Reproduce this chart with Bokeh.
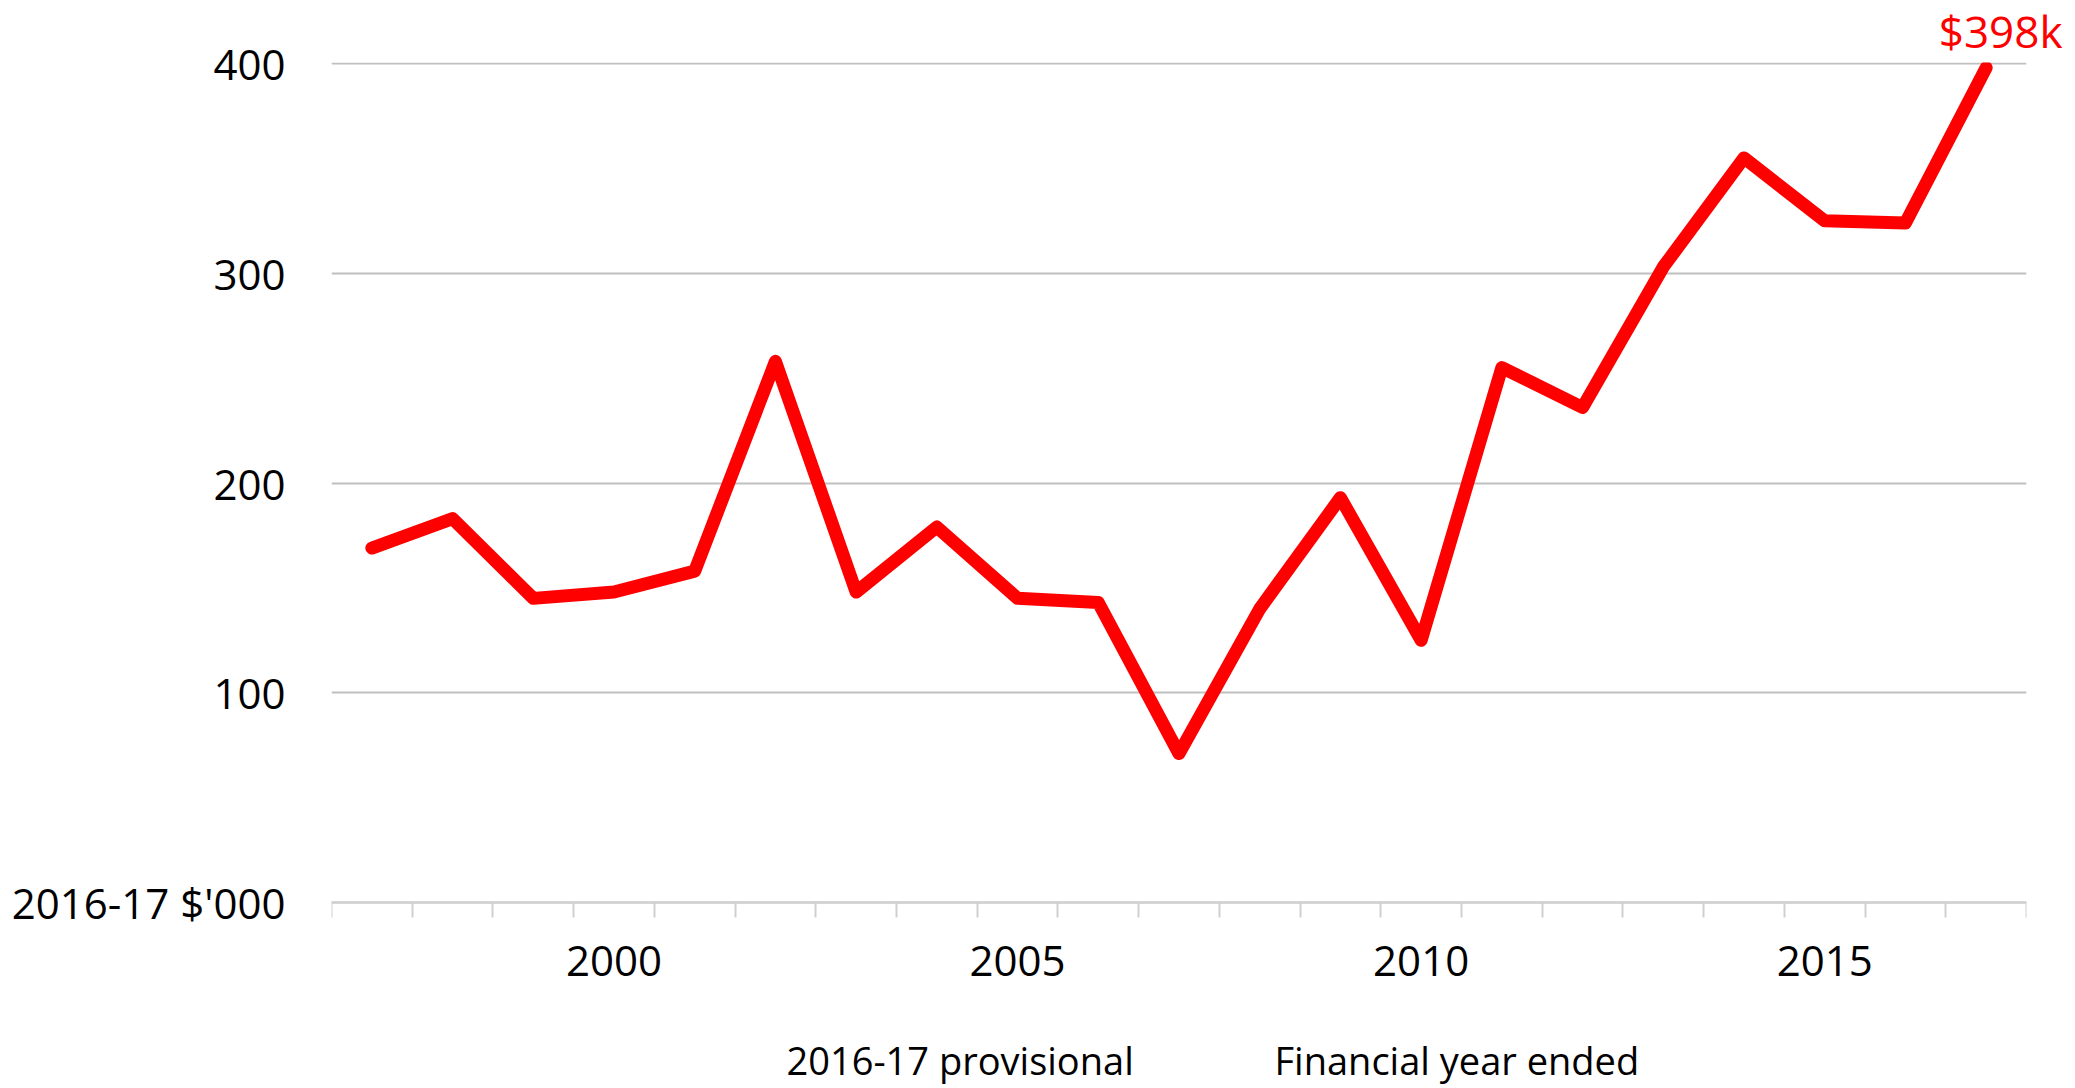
from bokeh.plotting import figure
from bokeh.models import Range1d, FixedTicker, Title, Label
from bokeh.embed import file_html
from bokeh.resources import INLINE

# ---- data ----
years = list(range(1997, 2018))
values = [169, 183, 145, 148, 158, 258, 148, 179, 145, 143, 71,
          140, 193, 125, 255, 236, 303, 355, 325, 324, 398]
x_tick_years = [2000, 2005, 2010, 2015]
y_ticks = [0, 100, 200, 300, 400]
y_unit_label = "2016-17 $'000"
end_label = "$398k"
note_left = "2016-17 provisional"
note_right = "Financial year ended"

FONT = "Open Sans"

# frame runs from the top title panel down to the bottom of the figure;
# the x axis is pinned at y = 0 so the notes can sit below it inside the frame
p = figure(width=2075, height=1088, output_backend="svg", toolbar_location=None,
           x_range=Range1d(years[0] - 0.5, years[-1] + 0.5),
           y_range=Range1d(-88.68, 400.48),
           min_border_left=331, min_border_right=49,
           min_border_top=56, min_border_bottom=0)
p.outline_line_color = None
p.background_fill_color = "white"
p.border_fill_color = "white"

p.line(years, values, line_color="#FF0000", line_width=13,
       line_join="round", line_cap="round")

# x axis: category boundaries as minor ticks, labels at year centres
bounds = [y - 0.5 for y in years] + [years[-1] + 0.5]
p.xaxis.fixed_location = 0
p.xaxis.ticker = FixedTicker(ticks=x_tick_years, minor_ticks=bounds)
p.xaxis.major_tick_out = 0
p.xaxis.major_tick_in = 0
p.xaxis.minor_tick_out = 15
p.xaxis.minor_tick_in = 0
p.xaxis.minor_tick_line_color = "#D0D0D0"
p.xaxis.minor_tick_line_width = 2
p.xaxis.axis_line_color = "#D0D0D0"
p.xaxis.axis_line_width = 2
p.xaxis.major_label_text_font = FONT
p.xaxis.major_label_text_font_size = "42px"
p.xaxis.major_label_text_color = "#000000"
p.xaxis.major_label_standoff = 29

# y axis
p.yaxis.ticker = FixedTicker(ticks=y_ticks)
p.yaxis.major_label_overrides = {0: y_unit_label}
p.yaxis.axis_line_color = None
p.yaxis.major_tick_out = 0
p.yaxis.major_tick_in = 0
p.yaxis.minor_tick_out = 0
p.yaxis.minor_tick_in = 0
p.yaxis.major_label_text_font = FONT
p.yaxis.major_label_text_font_size = "42px"
p.yaxis.major_label_text_color = "#000000"
p.yaxis.major_label_standoff = 46

p.xgrid.grid_line_color = None
p.ygrid.grid_line_color = "#C0C0C0"
p.ygrid.grid_line_width = 2

# end value label (above the frame, right aligned past its edge)
p.add_layout(Title(text=end_label, align="right", offset=-36, standoff=0,
                   vertical_align="top",
                   text_font=FONT, text_font_size="44px",
                   text_font_style="normal", text_color="#FF0000"), "above")

# notes under the x axis
p.add_layout(Label(x=2002.137, y=-75.3, text=note_left,
                   text_align="left", text_baseline="middle",
                   text_font=FONT, text_font_size="38px",
                   text_color="#000000"))
p.add_layout(Label(x=2008.183, y=-75.3, text=note_right,
                   text_align="left", text_baseline="middle",
                   text_font=FONT, text_font_size="38px",
                   text_color="#000000"))

open("out.html", "w").write(file_html(p, INLINE))
